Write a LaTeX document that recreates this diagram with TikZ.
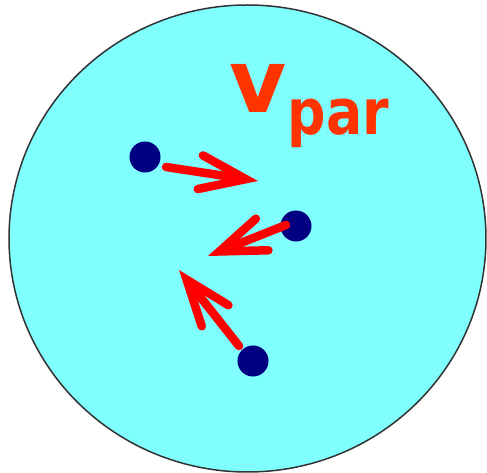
\documentclass[tikz,border=0pt]{standalone}
\usepackage{fontspec}
\usepackage{xcolor}
\usepackage{tikz}
\usetikzlibrary{arrows.meta,positioning}
\newfontfamily\labelfont{DejaVu Sans}
\definecolor{ballfill}{RGB}{128,255,255}
\definecolor{partblue}{RGB}{0,0,128}
\definecolor{velred}{RGB}{255,0,0}
\definecolor{labred}{RGB}{255,51,0}
\tikzset{
  particle/.style={circle, fill=partblue, inner sep=0pt, minimum size=0.31cm},
  vel/.style={velred, line width=0.085cm, line cap=round,
    -{Straight Barb[length=0.46cm, width=0.34cm, line cap=round, line join=miter]}}
}

\begin{document}
\begin{tikzpicture}[x=0.01cm, y=-0.01cm]
        \useasboundingbox (0,0) rectangle (487,473);
        % Kugla
        \draw[fill=ballfill, draw=black!80, line width=0.015cm] (247.5,238.5) ellipse (238.5 and 233.5);

        % Oznaka
        \node[anchor=base west, inner sep=0pt, text=labred, font=\labelfont\bfseries\fontsize{25}{25}\selectfont] (v) at (229,113) {v};
        \node[anchor=base west, inner sep=0pt, text=labred, font=\labelfont\bfseries\fontsize{18}{18}\selectfont] (par) at (287,135) {\scalebox{0.85}[1]{par}};

        % Cestice
        \node[particle] (p1) at (145,157) {};
        \node[particle] (p2) at (296,226) {};
        \node[particle] (p3) at (253,361) {};

        % Brzine
        \coordinate (s1) at (166,167);
        \coordinate (t1) at (258,181);
        \coordinate (s2) at (286,225);
        \coordinate (t2) at (208,256);
        \coordinate (s3) at (239,346);
        \coordinate (t3) at (179,270);
        \draw[vel] (s1) -- (t1);
        \draw[vel] (s2) -- (t2);
        \draw[vel] (s3) -- (t3);
    \end{tikzpicture}
\end{document}
